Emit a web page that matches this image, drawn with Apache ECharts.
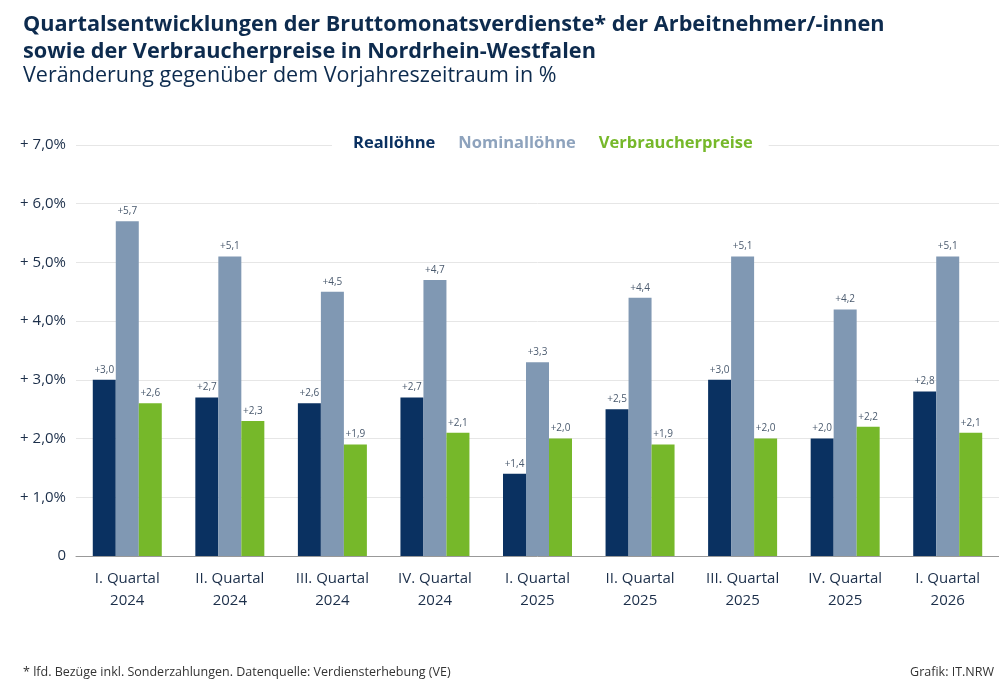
<!DOCTYPE html>
<html><head><meta charset="utf-8">
<script src="https://cdn.jsdelivr.net/npm/echarts@6/dist/echarts.min.js"></script>
<style>body{margin:0;background:#fff}#main{width:999px;height:690px}</style>
</head><body><div id="main"></div>
<script>
var categories = ["I. Quartal\n2024","II. Quartal\n2024","III. Quartal\n2024","IV. Quartal\n2024","I. Quartal\n2025","II. Quartal\n2025","III. Quartal\n2025","IV. Quartal\n2025","I. Quartal\n2026"];
var reallohne = [3.0,2.7,2.6,2.7,1.4,2.5,3.0,2.0,2.8];
var nominallohne = [5.7,5.1,4.5,4.7,3.3,4.4,5.1,4.2,5.1];
var verbraucherpreise = [2.6,2.3,1.9,2.1,2.0,1.9,2.0,2.2,2.1];

var myChart = echarts.init(document.getElementById('main'));
var fmt = function(v){ return v === 0 ? '0' : '+ ' + v.toFixed(1).replace('.', ',') + '%'; };
var lbl = {show:true,position:'top',fontSize:10,color:'#4a5a6e',fontFamily:'Open Sans',
  formatter:function(p){ return '+' + p.value.toFixed(1).replace('.', ','); }};
function bar(name,data,color){
  return {name:name,type:'bar',data:data,barWidth:23,barGap:'0%',itemStyle:{color:color},label:lbl};
}
var option = {
  textStyle:{fontFamily:'Open Sans'},
  title:[
    {text:'Quartalsentwicklungen der Bruttomonatsverdienste* der Arbeitnehmer/-innen\nsowie der Verbraucherpreise in Nordrhein-Westfalen',
     left:18,top:6,textStyle:{fontSize:21.7,fontWeight:'bold',color:'#0d2b4e',lineHeight:27}},
    {text:'Veränderung gegenüber dem Vorjahreszeitraum in %',left:18,top:60,
     textStyle:{fontSize:21.5,fontWeight:'normal',color:'#0d2b4e'}},
    {text:'* lfd. Bezüge inkl. Sonderzahlungen. Datenquelle: Verdiensterhebung (VE)',left:18,top:661,
     textStyle:{fontSize:12.5,fontWeight:'normal',color:'#333'}},
    {text:'Grafik: IT.NRW',right:0,top:661,textStyle:{fontSize:12.5,fontWeight:'normal',color:'#333'}}
  ],
  legend:{top:133,left:332,icon:'none',itemWidth:0,itemGap:18,backgroundColor:'#fff',padding:[2,16],
    textStyle:{fontSize:16.5,fontWeight:'bold'},
    data:[{name:'Reallöhne',textStyle:{color:'#0a3161'}},{name:'Nominallöhne',textStyle:{color:'#8ea3bd'}},
          {name:'Verbraucherpreise',textStyle:{color:'#76b82a'}}]},
  grid:{left:76,top:145,width:932,height:411},
  xAxis:{type:'category',data:categories,axisTick:{show:false},
    axisLine:{lineStyle:{color:'#999'}},
    axisLabel:{fontSize:15,color:'#1c2f4a',lineHeight:22,margin:12}},
  yAxis:{type:'value',min:0,max:7,interval:1,
    axisLabel:{fontSize:15,color:'#1c2f4a',formatter:fmt,margin:10},
    splitLine:{lineStyle:{color:'#e6e6e6'}}},
  series:[bar('Reallöhne',reallohne,'#0a3161'),bar('Nominallöhne',nominallohne,'#8098b3'),
          bar('Verbraucherpreise',verbraucherpreise,'#76b82a')]
};
myChart.setOption(option);
</script></body></html>
